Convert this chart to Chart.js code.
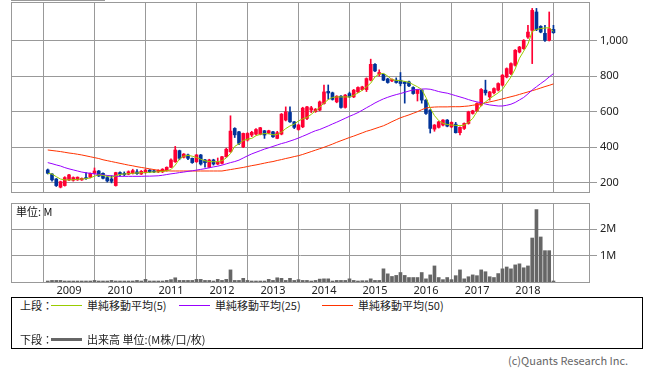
<!DOCTYPE html>
<html><head><meta charset="utf-8">
<script src="https://cdn.jsdelivr.net/npm/chart.js@4/dist/chart.umd.min.js"></script>
<style>
body{margin:0;background:#fff;width:652px;height:371px;position:relative;overflow:hidden;font-family:"Noto Sans CJK JP","Noto Sans",sans-serif;}
canvas{position:absolute;left:0;}
#c1{top:0;}
#c2{top:196px;}
.t{position:absolute;font-size:11px;line-height:14px;color:#222;white-space:nowrap;}
.ln{position:absolute;height:1px;}
#lbox{position:absolute;left:11px;top:297px;width:632px;height:52px;border:1px solid #000;box-sizing:border-box;}
#frag{position:absolute;left:11px;top:-5px;width:94px;height:6px;border:1px solid #999;box-sizing:border-box;border-left:none;}
</style></head>
<body>
<div id="frag"></div>
<canvas id="c1" width="652" height="196"></canvas>
<canvas id="c2" width="652" height="100"></canvas>
<div class="t" style="left:16px;top:204px;color:#111">単位: M</div>
<div id="lbox"></div>
<div class="t" style="left:20px;top:298px">上段：</div>
<div class="ln" style="left:51px;top:305px;width:31px;background:#99cc00"></div>
<div class="t" style="left:87px;top:298px">単純移動平均(5)</div>
<div class="ln" style="left:179px;top:305px;width:31px;background:#9900ff"></div>
<div class="t" style="left:215px;top:298px">単純移動平均(25)</div>
<div class="ln" style="left:322px;top:305px;width:31px;background:#ff3300"></div>
<div class="t" style="left:358px;top:298px">単純移動平均(50)</div>
<div class="t" style="left:20px;top:332px">下段：</div>
<div class="ln" style="left:51px;top:338px;width:31px;height:3px;background:#666"></div>
<div class="t" style="left:87px;top:332px">出来高 単位:(M株/口/枚)</div>
<div class="t" style="left:508px;top:353px;color:#666">(c)Quants Research Inc.</div>
<script>
const months = [
'2008-08','2008-09','2008-10','2008-11','2008-12',
'2009-01','2009-02','2009-03','2009-04','2009-05','2009-06','2009-07','2009-08','2009-09','2009-10','2009-11','2009-12',
'2010-01','2010-02','2010-03','2010-04','2010-05','2010-06','2010-07','2010-08','2010-09','2010-10','2010-11','2010-12',
'2011-01','2011-02','2011-03','2011-04','2011-05','2011-06','2011-07','2011-08','2011-09','2011-10','2011-11','2011-12',
'2012-01','2012-02','2012-03','2012-04','2012-05','2012-06','2012-07','2012-08','2012-09','2012-10','2012-11','2012-12',
'2013-01','2013-02','2013-03','2013-04','2013-05','2013-06','2013-07','2013-08','2013-09','2013-10','2013-11','2013-12',
'2014-01','2014-02','2014-03','2014-04','2014-05','2014-06','2014-07','2014-08','2014-09','2014-10','2014-11','2014-12',
'2015-01','2015-02','2015-03','2015-04','2015-05','2015-06','2015-07','2015-08','2015-09','2015-10','2015-11','2015-12',
'2016-01','2016-02','2016-03','2016-04','2016-05','2016-06','2016-07','2016-08','2016-09','2016-10','2016-11','2016-12',
'2017-01','2017-02','2017-03','2017-04','2017-05','2017-06','2017-07','2017-08','2017-09','2017-10','2017-11','2017-12',
'2018-01','2018-02','2018-03','2018-04','2018-05','2018-06','2018-07'];

const openP = [273,250,222,176,185,217,215,217,217,228,
 232,254,267,254,230,222,185,258,254,249,
 254,262,250,258,272,268,262,262,269,288,
 319,381,344,357,338,319,357,329,288,329,
 306,310,347,375,506,487,403,441,469,474,
 473,493,480,487,450,474,553,596,543,500,
 515,562,609,600,609,646,714,706,655,687,
 624,702,683,711,724,724,777,866,810,810,
 784,773,777,777,767,767,736,702,721,665,
 609,502,512,525,553,515,530,482,506,534,
 590,605,637,721,683,706,721,749,795,814,
 861,935,954,1019,1057,1160,1079,1040,1001,1062];
const highP = [278,252,225,210,235,248,234,234,228,258,
 256,284,270,257,240,240,260,262,262,268,
 277,275,270,276,275,272,274,280,290,335,
 405,384,365,362,340,360,360,332,333,333,
 340,350,395,577,510,490,480,482,490,505,
 512,495,496,490,490,590,627,627,545,530,
 625,630,630,618,660,750,750,710,690,690,
 697,710,725,740,743,790,895,870,835,812,
 788,785,790,820,770,772,740,724,725,668,
 612,528,546,556,556,543,540,515,537,603,
 608,650,730,777,714,734,762,809,846,874,
 949,967,1005,1085,1180,1180,1083,1085,1160,1085];
const lowP = [250,210,180,172,182,212,210,214,214,220,
 228,250,236,222,205,200,182,240,240,246,
 250,248,247,254,258,258,258,258,266,285,
 315,330,340,330,310,315,300,288,285,300,
 302,306,344,372,455,415,398,435,460,470,
 470,450,476,455,448,470,548,540,505,496,
 510,555,595,596,605,642,670,665,650,620,
 620,680,679,707,720,713,773,825,800,774,
 760,768,760,745,648,740,698,660,648,585,
 480,490,508,520,515,510,480,470,500,530,
 586,600,632,693,665,700,716,744,790,808,
 856,930,950,1012,870,1055,1043,995,997,1040];
const closeP = [254,217,185,207,230,245,230,232,226,224,
 254,267,239,226,211,209,258,249,247,263,
 269,252,265,272,262,262,270,277,288,329,
 385,338,362,338,314,357,306,314,329,306,
 318,347,389,491,470,422,478,478,484,500,
 510,469,493,459,482,586,599,543,512,525,
 620,627,622,614,655,711,705,669,687,624,
 693,683,721,736,739,786,866,829,820,777,
 764,781,764,758,758,745,702,721,665,590,
 506,525,543,553,519,540,482,512,534,599,
 605,646,725,706,711,730,758,805,842,870,
 945,963,1001,1047,1169,1060,1047,1001,1066,1044];
const ma5 = [254,250,235,222,217,217,218,220,222,224,
 228,238,245,242,237,232,240,248,250,252,
 254,256,257,258,260,261,262,264,268,275,
 300,335,350,355,350,343,333,324,320,319,
 319,325,340,365,405,420,438,446,450,465,
 473,477,476,470,472,485,505,520,530,548,
 560,568,585,605,625,648,668,680,683,683,
 683,683,692,705,720,740,760,795,812,815,
 800,780,776,774,770,765,752,740,725,680,
 620,578,550,535,528,525,523,522,524,540,
 562,600,635,655,673,690,706,725,760,795,
 840,900,940,980,1050,1062,1067,1070,1072,1050];
const ma25 = [314,308,301,295,286,279,273,267,261,257,
 254,251,248,245,242,240,238,237,237,237,
 237,237,237,238,238,239,240,243,247,251,
 254,258,261,265,268,272,276,280,285,290,
 294,300,307,314,320,328,340,352,363,372,
 381,390,397,405,413,421,427,435,443,452,
 462,472,483,493,500,510,520,531,541,552,
 563,574,584,595,608,622,635,649,661,672,
 681,689,696,702,709,716,722,725,727,728,
 726,720,713,708,704,697,690,683,676,668,
 661,655,650,643,638,635,632,632,636,642,
 652,666,680,700,722,740,758,775,795,814];
const ma50 = [385,382,379,376,372,368,365,361,357,352,
 347,342,337,330,325,320,315,310,305,300,
 296,291,287,283,279,275,271,269,268,267,
 267,267,267,267,267,267,267,267,267,267,
 267,267,271,275,279,283,287,292,297,301,
 306,311,316,320,326,331,337,342,348,353,
 360,368,376,384,392,400,409,418,428,437,
 446,455,463,472,481,490,497,505,513,521,
 532,544,555,566,574,582,591,600,611,621,
 624,626,627,627,627,628,628,628,630,632,
 636,640,645,650,655,660,666,672,678,684,
 690,697,704,711,718,725,733,741,748,756];
const volumeM = [0.02,0.06,0.06,0.06,0.02,0.02,0.02,0.02,0.02,0.03,
 0.02,0.06,0.02,0.02,0.02,0.06,0.02,0.02,0.02,0.02,
 0.03,0.06,0.02,0.1,0.02,0.02,0.02,0.02,0.06,0.09,
 0.16,0.06,0.06,0.06,0.06,0.1,0.1,0.06,0.06,0.02,
 0.1,0.06,0.1,0.46,0.06,0.06,0.14,0.06,0.02,0.02,
 0.02,0.02,0.1,0.06,0.16,0.14,0.06,0.14,0.06,0.09,
 0.06,0.06,0.03,0.06,0.11,0.12,0.12,0.03,0.06,0.06,
 0.06,0.12,0.06,0.01,0.05,0.05,0.12,0.06,0.06,0.5,
 0.31,0.21,0.25,0.36,0.25,0.17,0.17,0.17,0.36,0.12,
 0.27,0.61,0.17,0.09,0.17,0.09,0.24,0.46,0.12,0.2,
 0.27,0.24,0.46,0.39,0.2,0.17,0.32,0.5,0.57,0.5,
 0.65,0.69,0.54,0.61,1.67,2.75,1.71,1.19,1.19,0.03];
const priceTicks = [200,400,600,800,1000];
const volumeTicks = [1,2];
const yearLabels = ['2009','2010','2011','2012','2013','2014','2015','2016','2017','2018'];

const yearIdx = yearLabels.map(y => months.indexOf(y + '-01'));
const UP = '#ff0033', DOWN = '#003399', GRID = '#999';
const candleColor = openP.map((o, i) => closeP[i] >= o ? UP : DOWN);
const X_MIN = -8.65, X_MAX = 127.6;
const FONT = {family: '"Noto Sans", "DejaVu Sans", sans-serif', size: 11};

const framePlugin = {
  id: 'frame',
  afterDraw(chart) {
    const a = chart.chartArea, c = chart.ctx;
    c.save(); c.strokeStyle = GRID; c.lineWidth = 1;
    c.strokeRect(Math.round(a.left) + 0.5, Math.round(a.top) + 0.5,
      Math.round(a.right - a.left) - 1, Math.round(a.bottom - a.top));
    c.restore();
  }
};

function noPad(s) { s.paddingTop = 0; s.paddingBottom = 0; s.paddingLeft = 0; s.paddingRight = 0; }

function xScale(showLabels) {
  return {
    type: 'linear', min: X_MIN, max: X_MAX, offset: false,
    afterBuildTicks: s => { s.ticks = yearIdx.map(v => ({value: v})); },
    afterFit: s => { s.height = showLabels ? 14 : 0; noPad(s); },
    grid: {color: GRID, lineWidth: 1, drawTicks: false},
    border: {display: false},
    ticks: {display: showLabels, autoSkip: false, maxRotation: 0, padding: 2,
      color: '#222', font: FONT,
      callback: (v, i) => yearLabels[i]}
  };
}

const line = (arr, color, order) => ({
  type: 'line', data: arr.map((v, i) => ({x: i, y: v})),
  borderColor: color, borderWidth: 1, pointRadius: 0, tension: 0, order
});

new Chart(document.getElementById('c1'), {
  type: 'bar',
  data: {
    datasets: [
      line(ma5, '#99cc00', 1),
      line(ma25, '#9900ff', 2),
      line(ma50, '#ff3300', 3),
      {type: 'bar', data: months.map((m, i) => ({x: i, y: [openP[i], closeP[i]]})),
        backgroundColor: candleColor, barThickness: 3, minBarLength: 1, grouped: false, order: 4},
      {type: 'bar', data: months.map((m, i) => ({x: i, y: [lowP[i], highP[i]]})),
        backgroundColor: candleColor, barThickness: 1, grouped: false, order: 5}
    ]
  },
  options: {
    responsive: false, animation: false, devicePixelRatio: 1,
    layout: {padding: {left: 11, top: 2, right: 0, bottom: 4}},
    plugins: {legend: {display: false}, tooltip: {enabled: false}},
    scales: {
      x: xScale(false),
      y: {
        position: 'right', min: 149, max: 1216,
        afterBuildTicks: s => { s.ticks = priceTicks.map(v => ({value: v})); },
        afterFit: s => { s.width = 62; noPad(s); },
        grid: {color: GRID, tickLength: 7, drawTicks: true},
        border: {display: false},
        ticks: {padding: 3, color: '#222', font: FONT,
          callback: v => v.toLocaleString('en-US')}
      }
    }
  },
  plugins: [framePlugin]
});

new Chart(document.getElementById('c2'), {
  type: 'bar',
  data: {
    datasets: [{data: volumeM.map((v, i) => ({x: i, y: v})),
      backgroundColor: '#666', barThickness: 3, minBarLength: 1, grouped: false}]
  },
  options: {
    responsive: false, animation: false, devicePixelRatio: 1,
    layout: {padding: {left: 11, top: 7, right: 0, bottom: 0}},
    plugins: {legend: {display: false}, tooltip: {enabled: false}},
    scales: {
      x: xScale(true),
      y: {
        position: 'right', min: 0, max: 3,
        afterBuildTicks: s => { s.ticks = volumeTicks.map(v => ({value: v})); },
        afterFit: s => { s.width = 62; noPad(s); },
        grid: {color: GRID, tickLength: 7, drawTicks: true},
        border: {display: false},
        ticks: {padding: 3, color: '#222', font: FONT, callback: v => v + 'M'}
      }
    }
  },
  plugins: [framePlugin]
});
</script>
</body></html>
